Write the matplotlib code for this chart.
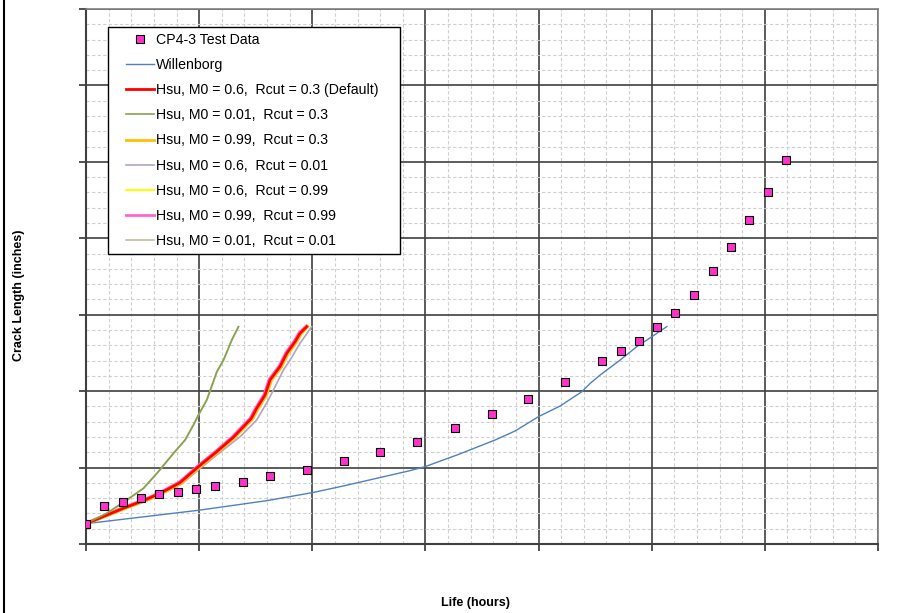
import matplotlib
matplotlib.use("Agg")
import matplotlib.pyplot as plt
from matplotlib.lines import Line2D
from matplotlib.patches import Rectangle
from matplotlib.ticker import MultipleLocator, NullFormatter

plt.rcParams['font.family'] = ['Liberation Sans', 'DejaVu Sans']

# 试验数据 (CP4-3)
test_x = [0.0, 0.162, 0.325, 0.486, 0.648, 0.816, 0.973, 1.141, 1.386, 1.627,
          1.954, 2.281, 2.602, 2.927, 3.257, 3.584, 3.909, 4.234, 4.563, 4.726,
          4.888, 5.046, 5.206, 5.374, 5.538, 5.697, 5.863, 6.024, 6.187]
test_y = [0.267, 0.503, 0.554, 0.606, 0.659, 0.685, 0.720, 0.755, 0.816, 0.886,
          0.969, 1.082, 1.200, 1.331, 1.522, 1.706, 1.894, 2.116, 2.392, 2.522,
          2.662, 2.838, 3.022, 3.262, 3.577, 3.891, 4.244, 4.611, 5.026]

# Willenborg
wil_x = [0.0, 0.993, 1.598, 2.0, 2.274, 2.865, 2.997, 3.294, 3.616, 3.793,
         3.999, 4.191, 4.383, 4.457, 4.545, 4.722, 4.869, 5.016, 5.134]
wil_y = [0.266, 0.441, 0.567, 0.672, 0.759, 0.960, 1.012, 1.173, 1.361, 1.479,
         1.666, 1.806, 1.993, 2.103, 2.212, 2.408, 2.583, 2.727, 2.845]

# Hsu 默认参数 M0=0.6, Rcut=0.3
hsu_def_x = [0.0, 0.330, 0.522, 0.655, 0.831, 0.993, 1.156, 1.302, 1.421, 1.460,
             1.509, 1.583, 1.627, 1.715, 1.775, 1.848, 1.892, 1.951]
hsu_def_y = [0.266, 0.467, 0.576, 0.663, 0.802, 1.011, 1.208, 1.396, 1.580, 1.640,
             1.776, 1.950, 2.147, 2.321, 2.496, 2.647, 2.757, 2.844]

# M0=0.01, Rcut=0.3 / M0=0.01, Rcut=0.01 (几乎重合)
hsu_m001_x = [0.0, 0.183, 0.360, 0.507, 0.639, 0.772, 0.875, 0.949, 0.993, 1.067,
              1.156, 1.215, 1.288, 1.347]
hsu_m001_y = [0.266, 0.402, 0.576, 0.729, 0.947, 1.187, 1.361, 1.558, 1.689, 1.885,
              2.255, 2.408, 2.670, 2.844]
hsu_m001_r001_x = [0.0, 0.185, 0.362, 0.509, 0.641, 0.774, 0.877, 0.951, 0.995, 1.069,
                   1.158, 1.217, 1.290, 1.349]
hsu_m001_r001_y = [0.266, 0.400, 0.574, 0.727, 0.945, 1.185, 1.359, 1.556, 1.687, 1.883,
                   2.253, 2.406, 2.668, 2.842]

# M0=0.99, Rcut=0.3
hsu_m099_x = [0.0, 0.335, 0.528, 0.661, 0.838, 1.000, 1.163, 1.310, 1.430, 1.468,
              1.518, 1.592, 1.636, 1.724, 1.784, 1.857, 1.900, 1.955]
hsu_m099_y = [0.266, 0.464, 0.573, 0.660, 0.799, 1.008, 1.205, 1.393, 1.577, 1.637,
              1.773, 1.947, 2.144, 2.318, 2.493, 2.644, 2.754, 2.844]

# M0=0.6, Rcut=0.01
hsu_r001_x = [0.0, 0.340, 0.540, 0.675, 0.850, 0.993, 1.156, 1.362, 1.509, 1.612,
              1.657, 1.745, 1.804, 1.892, 1.995]
hsu_r001_y = [0.266, 0.460, 0.565, 0.655, 0.790, 0.969, 1.165, 1.404, 1.623, 1.885,
              2.016, 2.277, 2.408, 2.627, 2.844]

# M0=0.6, Rcut=0.99
hsu_r099_x = [0.0, 0.332, 0.524, 0.657, 0.834, 0.996, 1.159, 1.305, 1.425, 1.463,
              1.512, 1.587, 1.630, 1.718, 1.778, 1.851, 1.895, 1.953]
hsu_r099_y = [0.266, 0.465, 0.574, 0.661, 0.800, 1.009, 1.206, 1.394, 1.578, 1.638,
              1.774, 1.948, 2.145, 2.319, 2.494, 2.645, 2.755, 2.844]

# M0=0.99, Rcut=0.99
hsu_m099_r099_x = [0.0, 0.326, 0.518, 0.651, 0.826, 0.988, 1.150, 1.296, 1.415, 1.454,
                   1.503, 1.577, 1.621, 1.709, 1.769, 1.842, 1.886, 1.947]
hsu_m099_r099_y = [0.266, 0.470, 0.579, 0.666, 0.805, 1.014, 1.211, 1.399, 1.583, 1.643,
                   1.779, 1.953, 2.150, 2.324, 2.499, 2.650, 2.760, 2.844]


W, H = 906, 613
fig = plt.figure(figsize=(W / 100, H / 100), dpi=100)
ax = fig.add_axes([86 / W, (H - 544) / H, (878 - 86) / W, (544 - 9) / H])

# 图表左侧边框
fig.add_artist(Line2D([3.5 / W, 3.5 / W], [0, 1], color='black', lw=1.5,
                      transform=fig.transFigure))

ax.plot(test_x, test_y, ls='none', marker='s', ms=5.5, mfc='#FF33CC', mec='black',
        mew=0.8, label='CP4-3 Test Data', zorder=10)
ax.plot(wil_x, wil_y, color='#4F81BD', lw=1.0, label='Willenborg', zorder=5)
ax.plot(hsu_r001_x, hsu_r001_y, color='#B3A2C7', lw=1.2,
        label='Hsu, M0 = 0.6,  Rcut = 0.01', zorder=4)
ax.plot(hsu_m099_r099_x, hsu_m099_r099_y, color='#FF66CC', lw=2.6,
        label='Hsu, M0 = 0.99,  Rcut = 0.99', zorder=5)
ax.plot(hsu_m099_x, hsu_m099_y, color='#FFC000', lw=2.6,
        label='Hsu, M0 = 0.99,  Rcut = 0.3', zorder=5)
ax.plot(hsu_r099_x, hsu_r099_y, color='#FFFF00', lw=1.5,
        label='Hsu, M0 = 0.6,  Rcut = 0.99', zorder=5)
ax.plot(hsu_def_x, hsu_def_y, color='#FF0000', lw=2.0,
        label='Hsu, M0 = 0.6,  Rcut = 0.3 (Default)', zorder=6)
ax.plot(hsu_m001_r001_x, hsu_m001_r001_y, color='#C4BD97', lw=1.2,
        label='Hsu, M0 = 0.01,  Rcut = 0.01', zorder=5)
ax.plot(hsu_m001_x, hsu_m001_y, color='#86A34E', lw=1.2,
        label='Hsu, M0 = 0.01,  Rcut = 0.3', zorder=6)

ax.set_xlim(0, 7)
ax.set_ylim(0, 7)
ax.xaxis.set_major_locator(MultipleLocator(1))
ax.xaxis.set_minor_locator(MultipleLocator(0.2))
ax.yaxis.set_major_locator(MultipleLocator(1))
ax.yaxis.set_minor_locator(MultipleLocator(0.2))
ax.xaxis.set_major_formatter(NullFormatter())
ax.yaxis.set_major_formatter(NullFormatter())
ax.tick_params(which='major', direction='out', length=5, width=1.2, color='#333333')
ax.tick_params(which='minor', length=0)
ax.grid(which='minor', color='#D0D0D0', ls=(0, (3, 2)), lw=0.8)
ax.grid(which='major', color='#404040', ls='-', lw=1.2)
ax.set_axisbelow(True)
for side in ['left', 'bottom']:
    ax.spines[side].set_color('#404040')
    ax.spines[side].set_linewidth(1.5)
for side in ['right', 'top']:
    ax.spines[side].set_color('#808080')
    ax.spines[side].set_linewidth(1.2)

ax.set_xlabel('Life (hours)', fontsize=9, fontweight='bold')
ax.set_ylabel('Crack Length (inches)', fontsize=9, fontweight='bold')
ax.xaxis.set_label_coords((475 - 86) / 792, (544 - 597) / 535)
ax.yaxis.set_label_coords((25 - 86) / 792, (544 - 295) / 535)

# 图例边框
ax.add_patch(Rectangle((108 / W, 1 - 254 / H), (400 - 108) / W, (254 - 27) / H,
                       transform=fig.transFigure, facecolor='white',
                       edgecolor='black', lw=1.0, zorder=19, clip_on=False))

# 图例顺序
handles, labels = ax.get_legend_handles_labels()
order = ['CP4-3 Test Data', 'Willenborg',
         'Hsu, M0 = 0.6,  Rcut = 0.3 (Default)', 'Hsu, M0 = 0.01,  Rcut = 0.3',
         'Hsu, M0 = 0.99,  Rcut = 0.3', 'Hsu, M0 = 0.6,  Rcut = 0.01',
         'Hsu, M0 = 0.6,  Rcut = 0.99', 'Hsu, M0 = 0.99,  Rcut = 0.99',
         'Hsu, M0 = 0.01,  Rcut = 0.01']
hmap = dict(zip(labels, handles))
leg = ax.legend([hmap[k] for k in order], order, loc='upper left',
                bbox_to_anchor=(126 / W, 1 - 33 / H), bbox_transform=fig.transFigure,
                fontsize=10.2, frameon=False, handlelength=1.95,
                handletextpad=0.15, labelspacing=0.785, borderpad=0.0,
                borderaxespad=0)
leg.set_zorder(20)
for h in leg.legend_handles:
    if h.get_color() in ('#FFC000', '#FF66CC'):
        h.set_linewidth(2.0)

fig.savefig('out.png', dpi=100)
